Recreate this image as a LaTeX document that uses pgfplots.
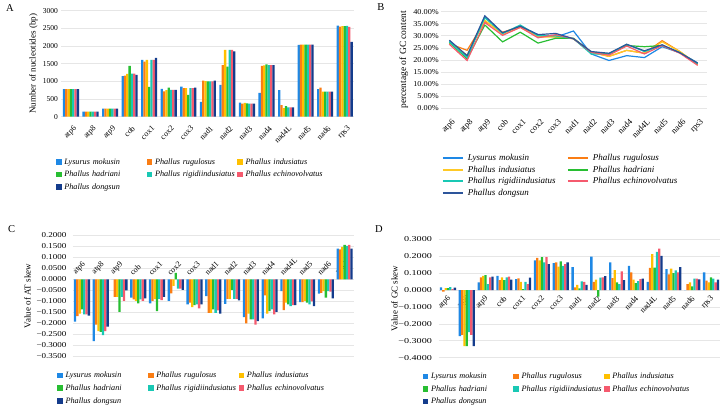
\documentclass[border=0pt]{standalone}
\usepackage{fontspec}
\setmainfont{Liberation Serif}
\newfontfamily\tfA[FakeStretch=1.0]{Liberation Serif}
\newfontfamily\tfB[FakeStretch=1.1]{Liberation Serif}
\newfontfamily\tfC[FakeStretch=1.2]{Liberation Serif}
\newfontfamily\tfD[FakeStretch=1.35]{Liberation Serif}
\usepackage{pgfplots}
\usepackage{pgfplotstable}
\pgfplotsset{compat=1.18}
\definecolor{c1}{RGB}{30,136,229}
\definecolor{c2}{RGB}{250,125,20}
\definecolor{c3}{RGB}{255,192,0}
\definecolor{c4}{RGB}{40,190,50}
\definecolor{c5}{RGB}{25,200,180}
\definecolor{c6}{RGB}{245,90,110}
\definecolor{c7}{RGB}{20,60,140}
\definecolor{l7}{RGB}{45,85,155}
\definecolor{gridc}{RGB}{230,230,230}

\pgfplotstableread{
x L R I H G E D
0 777 777 777 777 777 777 777
1 147 147 147 147 147 147 147
2 225 225 225 225 225 225 225
3 1146 1160 1212 1440 1220 1220 1184
4 1610 1560 1610 843 1610 1610 1667
5 790 720 750 820 760 760 760
6 850 810 810 616 810 810 820
7 417 1020 1010 1000 1000 1000 1020
8 900 1458 1894 1420 1890 1890 1846
9 400 370 390 380 370 370 370
10 672 1440 1450 1480 1460 1460 1460
11 750 330 240 300 265 265 265
12 2036 2040 2040 2040 2040 2040 2040
13 780 820 710 710 710 710 710
14 2580 2550 2560 2560 2570 2540 2121
}\tabA

\pgfplotstableread{
x L R I H G E D
0 28.0 26.8 27.0 27.3 27.5 26.5 28.2
1 21.5 24.0 22.0 20.5 21.0 19.8 21.8
2 38.0 36.0 36.5 34.5 37.5 35.5 38.3
3 31.0 31.5 30.5 27.5 31.0 30.2 31.3
4 34.0 33.8 33.5 31.5 34.5 33.5 34.0
5 30.5 29.5 29.5 27.0 30.0 29.2 30.5
6 29.5 30.0 29.5 29.0 30.0 30.5 31.0
7 32.0 28.8 28.8 29.0 28.8 28.8 28.8
8 22.5 23.2 23.2 23.2 22.5 23.2 23.5
9 19.8 21.5 21.5 22.5 22.5 22.0 22.8
10 21.8 24.0 24.0 26.0 26.5 25.8 26.5
11 21.0 22.8 22.8 25.5 23.5 22.5 23.8
12 25.5 28.0 27.5 26.0 26.0 26.0 26.3
13 23.0 23.5 23.5 23.0 23.0 22.8 23.0
14 18.8 18.0 18.2 18.5 18.5 17.8 18.7
}\tabB

\pgfplotstableread{
x L R I H G E D
0 -0.192 -0.167 -0.156 -0.136 -0.159 -0.159 -0.164
1 -0.280 -0.205 -0.235 -0.238 -0.253 -0.235 -0.215
2 0 -0.079 -0.079 -0.148 -0.079 -0.098 -0.050
3 -0.083 -0.091 -0.098 -0.109 -0.091 -0.098 -0.086
4 -0.109 -0.098 -0.090 -0.144 -0.088 -0.094 -0.079
5 -0.098 -0.064 -0.030 0.030 -0.042 -0.042 -0.048
6 -0.114 -0.106 -0.126 -0.117 -0.114 -0.132 -0.114
7 -0.076 -0.152 -0.152 -0.136 -0.152 -0.141 -0.156
8 -0.111 -0.088 -0.088 -0.048 -0.088 -0.088 -0.095
9 -0.171 -0.200 -0.156 -0.182 -0.182 -0.205 -0.189
10 -0.177 -0.073 -0.156 -0.144 -0.136 -0.159 -0.147
11 -0.053 -0.139 -0.106 -0.114 -0.121 -0.117 -0.117
12 -0.103 -0.103 -0.098 -0.106 -0.114 -0.100 -0.121
13 -0.065 -0.061 -0.053 -0.083 -0.053 -0.056 -0.086
14 0.139 0.136 0.148 0.156 0.152 0.156 0.139
}\tabC

\pgfplotstableread{
x L R I H G E D
0 0.016 -0.010 0.012 0.012 0.018 0.006 0.014
1 -0.273 -0.265 -0.331 -0.331 -0.249 -0.265 -0.331
2 0.045 0.075 0.084 0.088 0.035 0.075 0.080
3 0.084 0.059 0.075 0.059 0.075 0.080 0.061
4 0.065 0.069 0.049 0.006 0.049 0.035 0.073
5 0.176 0.190 0.176 0.194 0.163 0.194 0.153
6 0.159 0.163 0.139 0.169 0.143 0.153 0.163
7 0.135 0.016 0.031 0.010 0.051 0.049 0.031
8 0.198 0.049 0.061 -0.039 0.073 0.075 0.082
9 0.163 0.071 0.118 0.045 0.035 0.110 0.059
10 0.143 0.104 0.061 0.041 0.053 0.065 0.067
11 0.049 0.131 0.212 0.133 0.225 0.245 0.202
12 0.124 0.092 0.127 0.100 0.116 0.104 0.135
13 0 0.035 0.045 0.022 0.067 0.067 0.063
14 0.104 0.055 0.045 0.075 0.067 0.045 0.061
}\tabD

\pgfplotsset{
  sqleg/.style={legend image code/.code={\fill[##1] (0pt,-2.85pt) rectangle (5.7pt,2.85pt);}},
  lnleg/.style={legend image code/.code={\draw[##1, line width=2pt] (0pt,0pt) -- (20pt,0pt);}},
  panel/.style={
    scale only axis,
    xmin=-0.5, xmax=14.5,
    xtick={0,...,14},
    xticklabels={atp6,atp8,atp9,cob,cox1,cox2,cox3,nad1,nad2,nad3,nad4,nad4L,nad5,nad6,rps3},
    axis line style={draw=none},
    major tick length=0pt,
    ymajorgrids,
    grid style={draw=gridc, line width=0.7pt},
    tick label style={inner sep=0pt},
    x tick label style={font=\fontsize{8}{9}\selectfont},
    ylabel style={font=\fontsize{9}{10}\selectfont, anchor=center},
    title style={font=\fontsize{10.5}{12}\selectfont, anchor=center},
    legend cell align=left,
  },
  barpanel/.style={
    panel, ybar=0pt, bar width=2.3pt,
    every axis plot post/.append style={draw=none, sqleg},
    legend columns=3,
    legend style={draw=none, fill=none, inner sep=0pt, outer sep=0pt,
      font=\fontsize{8.2}{9}\selectfont\itshape, anchor=north west,
      row sep=4.2pt,
      /tikz/every odd column/.style={column sep=2.6pt},
      nodes={inner sep=0pt, text height=6.3pt, text depth=2pt, text width=82.4pt, align=left}},
  },
}

\begin{document}
\begin{tikzpicture}
\useasboundingbox (0pt,0pt) rectangle (724pt,412pt);

% ---------------- A ----------------
\begin{axis}[barpanel,
  at={(61.2pt,295.3pt)}, anchor=south west,
  width=293.3pt, height=106pt,
  ymin=0, ymax=3000,
  ytick={0,500,1000,1500,2000,2500,3000},
  yticklabels={0,500,1000,1500,2000,2500,3000},
  yticklabel style={font=\tfA\fontsize{7.5}{9}\selectfont, anchor=east, xshift=-3pt},
  xticklabel style={xshift=2pt, yshift=-8.3pt, rotate=45, anchor=north east},
  ylabel={Number of nucleotides (bp)},
  ylabel style={at={(axis description cs:-0.095,0.5)}},
  title={A},
  title style={at={(axis description cs:-0.175,0.964)}},
  legend style={at={(axis description cs:-0.0177,-0.387)}},
]
\addplot[fill=c1] table[x=x,y=L]{\tabA};
\addplot[fill=c2] table[x=x,y=R]{\tabA};
\addplot[fill=c3] table[x=x,y=I]{\tabA};
\addplot[fill=c4] table[x=x,y=H]{\tabA};
\addplot[fill=c5] table[x=x,y=G]{\tabA};
\addplot[fill=c6] table[x=x,y=E]{\tabA};
\addplot[fill=c7] table[x=x,y=D]{\tabA};
\legend{Lysurus mokusin,Phallus rugulosus,Phallus indusiatus,Phallus hadriani,Phallus rigidiindusiatus,Phallus echinovolvatus,Phallus dongsun}
\end{axis}

% ---------------- B ----------------
\begin{axis}[panel,
  at={(440.5pt,303.7pt)}, anchor=south west,
  width=266pt, height=96.6pt,
  ymin=0, ymax=40,
  ytick={0,5,10,15,20,25,30,35,40},
  yticklabels={0.00\%,5.00\%,10.00\%,15.00\%,20.00\%,25.00\%,30.00\%,35.00\%,40.00\%},
  yticklabel style={font=\tfB\fontsize{7.5}{9}\selectfont, anchor=east, xshift=-1.5pt},
  xticklabel style={xshift=2pt, yshift=-10pt, rotate=45, anchor=north east, font=\fontsize{8.5}{9}\selectfont},
  ylabel={percentage of GC content},
  ylabel style={at={(axis description cs:-0.138,0.5)}, font=\fontsize{9.5}{11}\selectfont},
  title={B},
  title style={at={(axis description cs:-0.224,0.987)}},
  every axis plot post/.append style={lnleg},
  legend columns=2,
  legend style={draw=none, fill=none, inner sep=0pt, outer sep=0pt,
    font=\fontsize{9}{10}\selectfont\itshape, anchor=north west,
    at={(axis description cs:0.0056,-0.467)},
    row sep=2.3pt,
    /tikz/every odd column/.style={column sep=4pt},
    nodes={inner sep=0pt, text height=7pt, text depth=2.3pt, text width=99pt, align=left}},
]
\addplot[c1, line width=1.2pt, no marks] table[x=x,y=L]{\tabB};
\addplot[c2, line width=1.2pt, no marks] table[x=x,y=R]{\tabB};
\addplot[c3!85!white, line width=1.2pt, no marks] table[x=x,y=I]{\tabB};
\addplot[c4, line width=1.2pt, no marks] table[x=x,y=H]{\tabB};
\addplot[c5, line width=1.2pt, no marks] table[x=x,y=G]{\tabB};
\addplot[c6, line width=1.2pt, no marks] table[x=x,y=E]{\tabB};
\addplot[l7, line width=1.2pt, no marks] table[x=x,y=D]{\tabB};
\legend{Lysurus mokusin,Phallus rugulosus,Phallus indusiatus,Phallus hadriani,Phallus rigidiindusiatus,Phallus echinovolvatus,Phallus dongsun}
\end{axis}

% ---------------- C ----------------
\begin{axis}[barpanel,
  at={(72.6pt,55.5pt)}, anchor=south west,
  width=281.4pt, height=121.2pt,
  ymin=-0.35, ymax=0.2,
  ytick={-0.35,-0.3,-0.25,-0.2,-0.15,-0.1,-0.05,0,0.05,0.1,0.15,0.2},
  yticklabels={−0.3500,−0.3000,−0.2500,−0.2000,−0.1500,−0.1000,−0.0500,0.0000,0.0500,0.1000,0.1500,0.2000},
  yticklabel style={font=\tfC\fontsize{7.5}{9}\selectfont, anchor=east, xshift=-6pt},
  xticklabel style={xshift=-5pt, yshift=80.5pt, rotate=45, anchor=south west},
  ylabel={Value of AT skew},
  ylabel style={at={(axis description cs:-0.160,0.5)}},
  title={C},
  title style={at={(axis description cs:-0.217,1.0025)}},
  legend style={at={(axis description cs:-0.0544,-0.123)}, row sep=4.4pt},
]
\addplot[fill=c1] table[x=x,y=L]{\tabC};
\addplot[fill=c2] table[x=x,y=R]{\tabC};
\addplot[fill=c3] table[x=x,y=I]{\tabC};
\addplot[fill=c4] table[x=x,y=H]{\tabC};
\addplot[fill=c5] table[x=x,y=G]{\tabC};
\addplot[fill=c6] table[x=x,y=E]{\tabC};
\addplot[fill=c7] table[x=x,y=D]{\tabC};
\legend{Lysurus mokusin,Phallus rugulosus,Phallus indusiatus,Phallus hadriani,Phallus rigidiindusiatus,Phallus echinovolvatus,Phallus dongsun}
\end{axis}

% ---------------- D ----------------
\begin{axis}[barpanel,
  at={(438.6pt,54.3pt)}, anchor=south west,
  width=281.8pt, height=118.4pt,
  ymin=-0.4, ymax=0.3,
  ytick={-0.4,-0.3,-0.2,-0.1,0,0.1,0.2,0.3},
  yticklabels={−0.4000,−0.3000,−0.2000,−0.1000,0.0000,0.1000,0.2000,0.3000},
  yticklabel style={font=\tfD\fontsize{7.5}{9}\selectfont, anchor=east, xshift=-6.5pt},
  xticklabel style={xshift=-1pt, yshift=62.7pt, rotate=45, anchor=north east},
  ylabel={Value of GC skew},
  ylabel style={at={(axis description cs:-0.156,0.5)}},
  title={D},
  title style={at={(axis description cs:-0.2115,1.036)}},
  legend style={at={(axis description cs:-0.0564,-0.125)}, row sep=4.1pt},
]
\addplot[fill=c1] table[x=x,y=L]{\tabD};
\addplot[fill=c2] table[x=x,y=R]{\tabD};
\addplot[fill=c3] table[x=x,y=I]{\tabD};
\addplot[fill=c4] table[x=x,y=H]{\tabD};
\addplot[fill=c5] table[x=x,y=G]{\tabD};
\addplot[fill=c6] table[x=x,y=E]{\tabD};
\addplot[fill=c7] table[x=x,y=D]{\tabD};
\legend{Lysurus mokusin,Phallus rugulosus,Phallus indusiatus,Phallus hadriani,Phallus rigidiindusiatus,Phallus echinovolvatus,Phallus dongsun}
\end{axis}
\end{tikzpicture}
\end{document}
